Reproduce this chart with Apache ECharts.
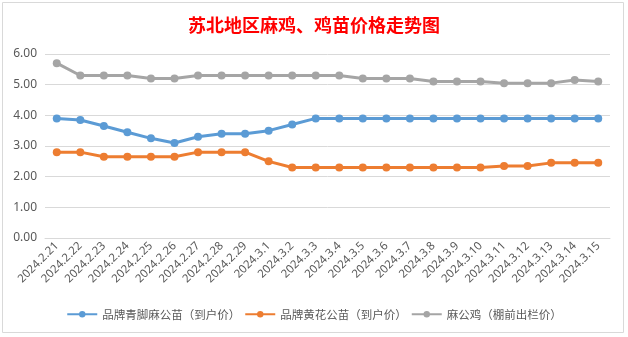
<!DOCTYPE html>
<html>
<head>
<meta charset="utf-8">
<script src="https://cdn.jsdelivr.net/npm/echarts@6/dist/echarts.min.js"></script>
<style>
html,body{margin:0;padding:0;background:#fff;}
#c{width:628px;height:337px;}
</style>
</head>
<body>
<div id="c"></div>
<script>
const categories = ['2024.2.21','2024.2.22','2024.2.23','2024.2.24','2024.2.25','2024.2.26','2024.2.27','2024.2.28','2024.2.29',
  '2024.3.1','2024.3.2','2024.3.3','2024.3.4','2024.3.5','2024.3.6','2024.3.7','2024.3.8','2024.3.9','2024.3.10',
  '2024.3.11','2024.3.12','2024.3.13','2024.3.14','2024.3.15'];
const seriesNames = ['品牌青脚麻公苗（到户价）','品牌黄花公苗（到户价）','麻公鸡（棚前出栏价）'];
const blueValues = [3.9,3.85,3.65,3.45,3.25,3.1,3.3,3.4,3.4,3.5,3.7,3.9,3.9,3.9,3.9,3.9,3.9,3.9,3.9,3.9,3.9,3.9,3.9,3.9];
const orangeValues = [2.8,2.8,2.65,2.65,2.65,2.65,2.8,2.8,2.8,2.5,2.3,2.3,2.3,2.3,2.3,2.3,2.3,2.3,2.3,2.35,2.35,2.45,2.45,2.45];
const grayValues = [5.7,5.3,5.3,5.3,5.2,5.2,5.3,5.3,5.3,5.3,5.3,5.3,5.3,5.2,5.2,5.2,5.1,5.1,5.1,5.05,5.05,5.05,5.15,5.1];
const titleText = '苏北地区麻鸡、鸡苗价格走势图';

const colors = ['#5B9BD5','#ED7D31','#A5A5A5'];
const font = '"Noto Sans", "Noto Sans CJK SC", sans-serif';
const chart = echarts.init(document.getElementById('c'), null, {renderer:'canvas'});
function mk(name, data, color){
  return {
    name, type:'line', data,
    symbol:'circle', symbolSize:8,
    lineStyle:{width:3,color},
    itemStyle:{color},
    emphasis:{disabled:true},
    animation:false
  };
}
chart.setOption({
  animation:false,
  textStyle:{fontFamily:font},
  graphic:[{type:'rect',shape:{x:2.5,y:2.5,width:621,height:330},style:{fill:'none',stroke:'#d9d9d9',lineWidth:1},silent:true}],
  title:{text:titleText,left:'center',top:11,textStyle:{color:'#FF0000',fontSize:18,fontWeight:'bold',fontFamily:'"Noto Sans CJK SC", serif'}},
  grid:{left:45,right:18,top:54,bottom:99},
  legend:{bottom:12,left:'center',itemWidth:30,itemHeight:8,itemGap:4,
    textStyle:{color:'#595959',fontSize:11.5,fontFamily:'"Noto Sans CJK SC", sans-serif'},
    data:seriesNames},
  xAxis:{type:'category',data:categories,boundaryGap:true,
    axisLine:{lineStyle:{color:'#d9d9d9'}},axisTick:{show:false},
    axisLabel:{rotate:45,color:'#595959',fontSize:11.5,interval:0,margin:6}},
  yAxis:{type:'value',min:0,max:6,interval:1,
    axisLine:{show:false},axisTick:{show:false},
    splitLine:{lineStyle:{color:'#d9d9d9'}},
    axisLabel:{color:'#595959',fontSize:12,margin:8,formatter:v=>v.toFixed(2)}},
  series:[mk(seriesNames[0],blueValues,colors[0]),mk(seriesNames[1],orangeValues,colors[1]),mk(seriesNames[2],grayValues,colors[2])]
});
</script>
</body>
</html>
